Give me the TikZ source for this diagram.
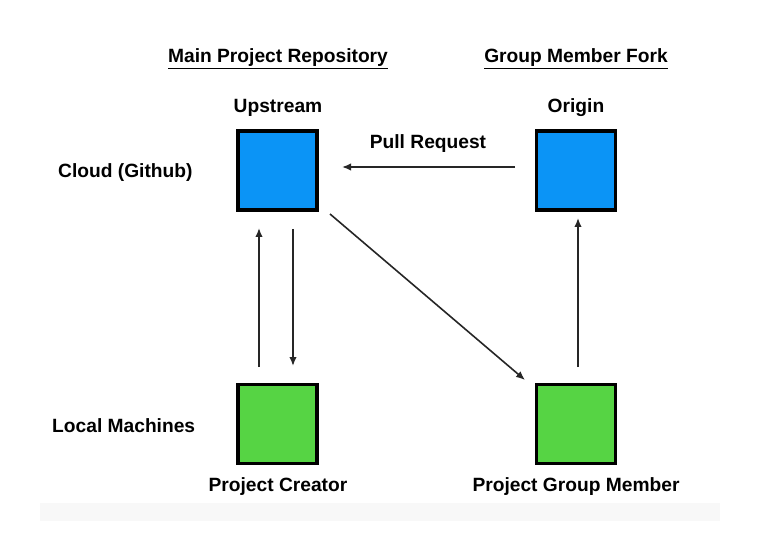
\documentclass[tikz,border=0pt]{standalone}
\usepackage{fontspec}
\setmainfont{Liberation Sans}
\usetikzlibrary{arrows.meta}
\definecolor{cloudblue}{HTML}{0B94F6}
\definecolor{localgreen}{HTML}{56D444}
\definecolor{stripgray}{HTML}{F8F8F8}
\begin{document}
\begin{tikzpicture}[x=1pt,y=-1pt,
  repo/.style={draw=black,line width=3.8pt,minimum size=79pt,inner sep=0pt},
  label/.style={font=\bfseries\fontsize{19.2}{22}\selectfont,inner sep=0pt,anchor=base},
  head/.style={label},
  flow/.style={line width=1.6pt,draw=black!85,-{Latex[length=9pt,width=7.5pt]}}]
\useasboundingbox (0,0) rectangle (773,553);
\fill[stripgray] (40,503) rectangle (720,521);

% column headings
\node[head] (mainhead) at (278,63) {\underline{Main Project Repository}};
\node[head] (forkhead) at (576,63) {\underline{Group Member Fork}};

% row labels
\node[label,anchor=base west] (cloud) at (58,178) {Cloud (Github)};
\node[label,anchor=base west] (local) at (52,432) {Local Machines};

% repositories
\node[repo,fill=cloudblue] (upstream) at (277.5,170.5) {};
\node[repo,fill=cloudblue] (origin) at (576,170.5) {};
\node[repo,fill=localgreen] (creator) at (277.5,424) {};
\node[repo,fill=localgreen] (member) at (576,424) {};

\node[label] (upstreamlbl) at (278,113) {Upstream};
\node[label] (originlbl) at (576,113) {Origin};
\node[label] (creatorlbl) at (278,491) {Project Creator};
\node[label] (memberlbl) at (576,491) {Project Group Member};
\node[label] (prlbl) at (428,149) {Pull Request};

% arrow end points in the gaps between the boxes
\coordinate (prfrom) at (515,167);
\coordinate (prto) at (342,167);
\coordinate (pushfrom) at (259,367);
\coordinate (pushto) at (259,228);
\coordinate (pullfrom) at (293,229);
\coordinate (pullto) at (293,366);
\coordinate (clonefrom) at (330,214);
\coordinate (cloneto) at (525,380);
\coordinate (forkfrom) at (578,367);
\coordinate (forkto) at (578,218);

% connectors
\draw[flow] (prfrom) -- (prto);
\draw[flow] (pushfrom) -- (pushto);
\draw[flow] (pullfrom) -- (pullto);
\draw[flow] (clonefrom) -- (cloneto);
\draw[flow] (forkfrom) -- (forkto);
\end{tikzpicture}
\end{document}
